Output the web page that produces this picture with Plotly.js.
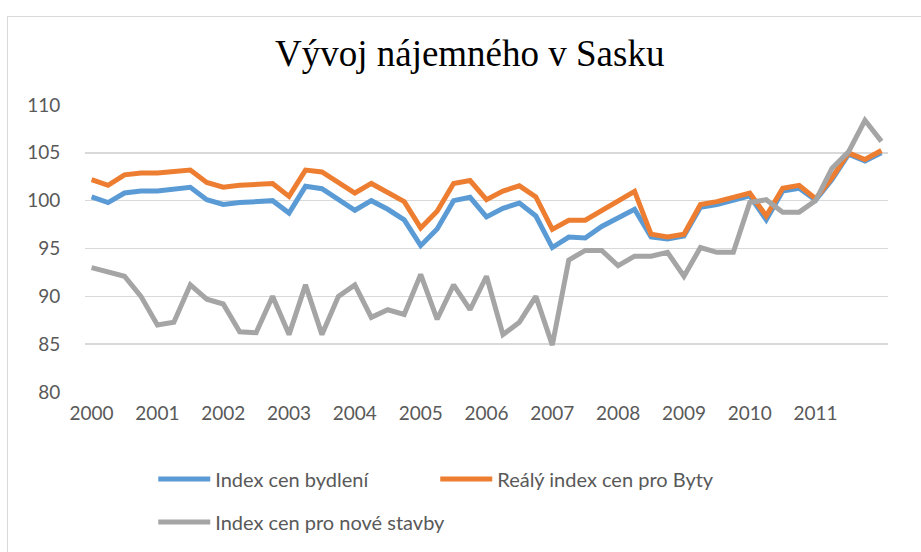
<!DOCTYPE html>
<html>
<head>
<meta charset="utf-8">
<script src="https://cdn.plot.ly/plotly-3.0.1.min.js"></script>
<style>
  html, body { margin: 0; padding: 0; background: #ffffff; overflow: hidden; }
  #frame { position: absolute; left: 7px; top: 16px; width: 1000px; height: 1000px; border: 1px solid #d9d9d9; box-sizing: border-box; }
  #chart { position: absolute; left: 0; top: 0; width: 921px; height: 552px; }
</style>
</head>
<body>
<div id="frame"></div>
<div id="chart"></div>
<script>
// Quarterly periods, 2000 Q1 .. 2012 Q1 (49 points)
const quarters = [
  "2000 Q1","2000 Q2","2000 Q3","2000 Q4","2001 Q1","2001 Q2","2001 Q3","2001 Q4",
  "2002 Q1","2002 Q2","2002 Q3","2002 Q4","2003 Q1","2003 Q2","2003 Q3","2003 Q4",
  "2004 Q1","2004 Q2","2004 Q3","2004 Q4","2005 Q1","2005 Q2","2005 Q3","2005 Q4",
  "2006 Q1","2006 Q2","2006 Q3","2006 Q4","2007 Q1","2007 Q2","2007 Q3","2007 Q4",
  "2008 Q1","2008 Q2","2008 Q3","2008 Q4","2009 Q1","2009 Q2","2009 Q3","2009 Q4",
  "2010 Q1","2010 Q2","2010 Q3","2010 Q4","2011 Q1","2011 Q2","2011 Q3","2011 Q4",
  "2012 Q1"
];
const yearLabels = ["2000","2001","2002","2003","2004","2005","2006","2007","2008","2009","2010","2011"];

const indexBydleni = [
  100.4, 99.8, 100.8, 101.0, 101.0, 101.2, 101.4, 100.1,
  99.6, 99.8, 99.9, 100.0, 98.7, 101.5, 101.25, 100.1,
  99.0, 100.0, 99.1, 98.0, 95.3, 97.05, 100.0, 100.35,
  98.3, 99.2, 99.75, 98.4, 95.1, 96.2, 96.1, 97.3,
  98.2, 99.1, 96.2, 96.0, 96.3, 99.3, 99.6, 100.1,
  100.5, 98.0, 101.0, 101.3, 100.05, 102.2, 104.85, 104.15,
  105.0
];
const realnyIndexByty = [
  102.2, 101.6, 102.7, 102.9, 102.9, 103.05, 103.2, 101.9,
  101.4, 101.6, 101.7, 101.8, 100.45, 103.2, 103.0, 101.9,
  100.8, 101.8, 100.9, 99.9, 97.15, 98.9, 101.8, 102.1,
  100.1, 101.0, 101.55, 100.4, 97.0, 97.95, 97.95, 99.0,
  100.0, 100.97, 96.5, 96.2, 96.5, 99.6, 99.9, 100.35,
  100.8, 98.4, 101.3, 101.6, 100.2, 102.4, 105.0, 104.3,
  105.25
];
const indexNoveStavby = [
  93.0, 92.6, 92.1, 90.0, 87.0, 87.3, 91.2, 89.7,
  89.2, 86.3, 86.2, 90.0, 86.0, 91.2, 86.0, 90.0,
  91.2, 87.8, 88.6, 88.1, 92.3, 87.6, 91.2, 88.6,
  92.1, 86.0, 87.3, 90.0, 84.9, 93.8, 94.8, 94.8,
  93.2, 94.2, 94.2, 94.6, 92.1, 95.1, 94.6, 94.6,
  99.8, 100.1, 98.8, 98.8, 100.0, 103.4, 105.1, 108.4,
  106.2
];

const xIdx = quarters.map((q, i) => i);
const tickIdx = yearLabels.map((y, i) => i * 4);

const mk = (name, y, color, leg) => ({
  type: 'scatter', mode: 'lines', name: name, x: xIdx, y: y,
  text: quarters, hoverinfo: 'text+y', legend: leg,
  line: { color: color, width: 5, shape: 'linear' }
});

const data = [
  mk('Index cen bydlení', indexBydleni, '#5B9BD5', 'legend'),
  mk('Reálý index cen pro Byty', realnyIndexByty, '#ED7D31', 'legend'),
  mk('Index cen pro nové stavby', indexNoveStavby, '#A5A5A5', 'legend2')
];

const legFont = { size: 20, color: '#595959', family: 'Lato, Open Sans, sans-serif' };
const plotTop = 105, plotBottom = 393;
const legY = (py) => (plotBottom - py) / (plotBottom - plotTop);

const layout = {
  width: 921, height: 552,
  paper_bgcolor: 'rgba(0,0,0,0)', plot_bgcolor: 'rgba(0,0,0,0)',
  margin: { l: 85, r: 33, t: 105, b: 159 },
  title: {
    text: 'Vývoj nájemného v Sasku',
    font: { family: 'Liberation Serif, Times New Roman, serif', size: 37, color: '#000000' },
    x: 0.51, xanchor: 'center', y: 1 - 53/552, yanchor: 'middle'
  },
  font: { family: 'Lato, Open Sans, sans-serif', color: '#595959' },
  xaxis: {
    range: [-0.4, 48.4],
    tickmode: 'array', tickvals: tickIdx, ticktext: yearLabels,
    showgrid: false, zeroline: false, showline: false,
    ticks: 'outside', ticklen: 4, tickcolor: 'rgba(0,0,0,0)',
    tickfont: { size: 19, color: '#595959' }
  },
  yaxis: {
    range: [80, 110], dtick: 5, tick0: 80,
    showgrid: true, gridcolor: '#d9d9d9', gridwidth: 1.5,
    zeroline: false, showline: false,
    ticks: 'outside', ticklen: 20, tickcolor: 'rgba(0,0,0,0)',
    tickfont: { size: 19, color: '#595959' }
  },
  showlegend: true,
  legend: {
    orientation: 'h', x: 0.085, xanchor: 'left', y: legY(479), yanchor: 'middle',
    entrywidth: 215, entrywidthmode: 'pixels',
    itemwidth: 52, font: legFont, bgcolor: 'rgba(0,0,0,0)'
  },
  legend2: {
    orientation: 'h', x: 0.085, xanchor: 'left', y: legY(522), yanchor: 'middle',
    itemwidth: 52, font: legFont, bgcolor: 'rgba(0,0,0,0)'
  }
};

Plotly.newPlot('chart', data, layout, { displayModeBar: false, staticPlot: true });
</script>
</body>
</html>
